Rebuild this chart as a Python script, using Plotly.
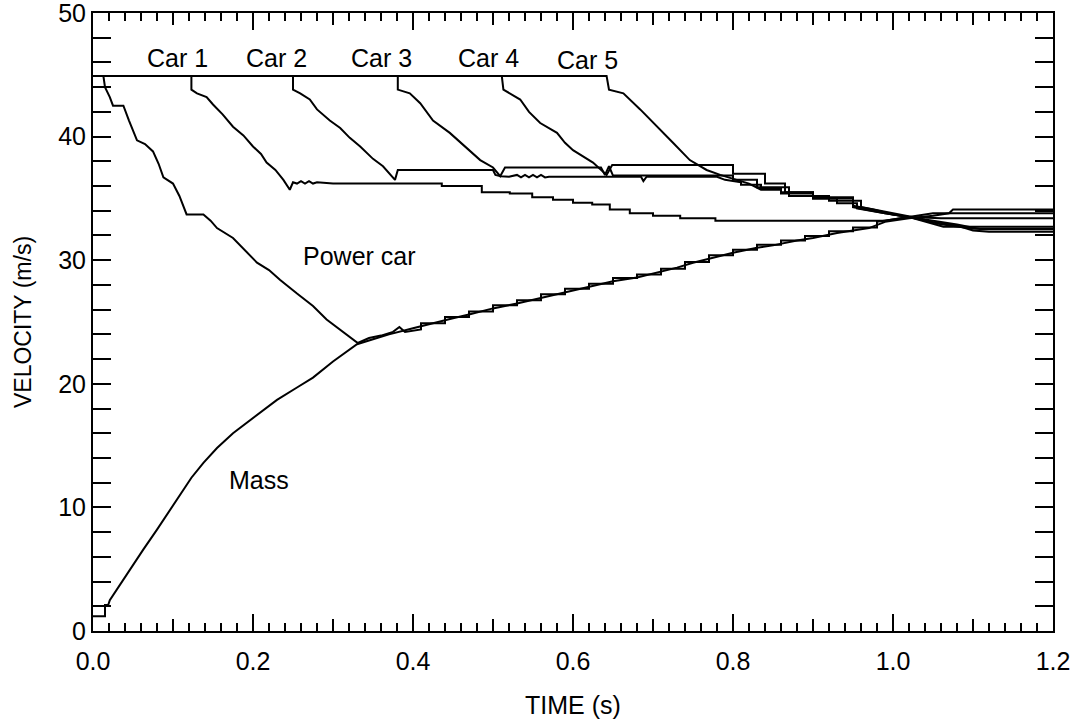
import plotly.graph_objects as go

# ---- data (time in s, velocity in m/s) ----
mass_t = [0.0, 0.015, 0.015, 0.019, 0.021, 0.03, 0.042, 0.052, 0.063, 0.08,
          0.096, 0.109, 0.123, 0.138, 0.155, 0.175, 0.2, 0.23, 0.255, 0.275,
          0.3, 0.33, 0.35, 0.37, 0.4, 0.43, 0.45, 0.47, 0.5, 0.53,
          0.55, 0.58, 0.6, 0.63, 0.65, 0.68, 0.7, 0.73, 0.75, 0.78,
          0.8, 0.83, 0.85, 0.88, 0.9, 0.93, 0.95, 0.97, 0.99, 1.02,
          1.05, 1.07, 1.075, 1.2]
mass_v = [1.2, 1.2, 2.1, 2.1, 2.5, 3.4, 4.6, 5.6, 6.6, 8.2,
          9.8, 11.1, 12.4, 13.6, 14.8, 16.0, 17.2, 18.7, 19.7, 20.5,
          21.8, 23.2, 23.6, 24.0, 24.5, 25.0, 25.3, 25.6, 26.1, 26.5,
          26.8, 27.3, 27.6, 28.0, 28.3, 28.6, 28.9, 29.4, 29.8, 30.3,
          30.6, 31.0, 31.2, 31.6, 31.8, 32.2, 32.4, 32.6, 33.1, 33.4,
          33.6, 33.8, 34.1, 34.1]

power_t = [0.0, 0.013, 0.015, 0.021, 0.025, 0.038, 0.045, 0.055, 0.065, 0.075,
           0.082, 0.088, 0.1, 0.108, 0.117, 0.138, 0.147, 0.155, 0.175, 0.19,
           0.205, 0.22, 0.234, 0.255, 0.275, 0.292, 0.31, 0.331, 0.345, 0.36,
           0.375, 0.383, 0.39,
           0.41, 0.41, 0.44, 0.44, 0.47, 0.47, 0.5, 0.5, 0.53, 0.53,
           0.56, 0.56, 0.59, 0.59, 0.62, 0.62, 0.65, 0.65, 0.68, 0.68,
           0.71, 0.71, 0.74, 0.74, 0.77, 0.77, 0.8, 0.8, 0.83, 0.83,
           0.86, 0.86, 0.89, 0.89, 0.92, 0.92, 0.95, 0.95, 0.98, 0.98,
           1.01, 1.03, 1.05, 1.2]
power_v = [44.9, 44.9, 44.0, 43.2, 42.5, 42.5, 41.3, 39.7, 39.4, 38.8,
           37.8, 36.7, 36.2, 35.2, 33.7, 33.7, 33.2, 32.6, 31.8, 30.8,
           29.8, 29.2, 28.4, 27.3, 26.3, 25.2, 24.3, 23.3, 23.7, 23.9,
           24.2, 24.6, 24.2,
           24.4, 24.9, 24.9, 25.4, 25.4, 25.85, 25.85, 26.35, 26.35, 26.75,
           26.75, 27.25, 27.25, 27.7, 27.7, 28.1, 28.1, 28.55, 28.55, 28.85,
           28.85, 29.3, 29.3, 29.85, 29.85, 30.4, 30.4, 30.85, 30.85, 31.25,
           31.25, 31.6, 31.6, 31.95, 31.95, 32.35, 32.35, 32.65, 32.65, 33.1,
           33.4, 33.6, 33.8, 33.8]

car1_t = [0.0, 0.123, 0.123, 0.13, 0.142, 0.15, 0.162, 0.175, 0.188, 0.2,
          0.21, 0.217, 0.228, 0.238, 0.246, 0.25, 0.255, 0.26, 0.265, 0.27,
          0.275, 0.28, 0.3, 0.436, 0.436, 0.486, 0.486, 0.521, 0.521, 0.549,
          0.549, 0.575, 0.575, 0.6, 0.6, 0.624, 0.624, 0.646, 0.646, 0.671,
          0.671, 0.70, 0.70, 0.734, 0.734, 0.778, 0.778, 0.99, 1.02, 1.06,
          1.2]
car1_v = [44.9, 44.9, 43.8, 43.5, 43.2, 42.6, 41.8, 40.8, 40.1, 39.2,
          38.6, 37.9, 37.3, 36.5, 35.7, 36.3, 36.2, 36.4, 36.2, 36.4,
          36.2, 36.3, 36.2, 36.2, 36.0, 36.0, 35.5, 35.5, 35.4, 35.4,
          35.1, 35.1, 34.9, 34.9, 34.65, 34.65, 34.5, 34.5, 34.1, 34.1,
          33.8, 33.8, 33.6, 33.6, 33.4, 33.4, 33.2, 33.2, 33.5, 33.4,
          33.4]

car2_t = [0.0, 0.25, 0.25, 0.259, 0.271, 0.28, 0.296, 0.309, 0.321, 0.334,
          0.35, 0.3625, 0.3775, 0.381, 0.5, 0.503, 0.51, 0.52, 0.53, 0.535,
          0.54, 0.545, 0.55, 0.555, 0.56, 0.565, 0.57, 0.685, 0.688, 0.692,
          0.78, 0.79, 0.81, 0.81, 0.835, 0.835, 0.86, 0.86, 0.9, 0.9,
          0.93, 0.93, 0.955, 0.955, 0.99, 1.02, 1.063, 1.2]
car2_v = [44.9, 44.9, 43.8, 43.5, 43.0, 42.2, 41.3, 40.7, 39.9, 39.2,
          38.2, 37.6, 36.5, 37.3, 37.3, 36.9, 36.8, 36.75, 36.9, 36.7,
          36.9, 36.7, 36.9, 36.7, 36.9, 36.7, 36.75, 36.75, 36.4, 36.75,
          36.75, 36.5, 36.3, 36.1, 36.1, 35.8, 35.8, 35.4, 35.4, 35.0,
          35.0, 34.6, 34.6, 34.2, 33.8, 33.5, 32.7, 32.7]

car3_t = [0.0, 0.381, 0.381, 0.396, 0.409, 0.425, 0.446, 0.4675, 0.484, 0.5,
          0.509, 0.515, 0.635, 0.64, 0.645, 0.65, 0.8, 0.8, 0.83, 0.83,
          0.87, 0.87, 0.92, 0.92, 0.96, 0.96, 1.0, 1.04, 1.08, 1.11,
          1.2]
car3_v = [44.9, 44.9, 43.8, 43.5, 42.7, 41.3, 40.3, 39.1, 38.1, 37.5,
          36.8, 37.5, 37.5, 36.9, 37.6, 36.85, 36.85, 36.5, 36.5, 35.9,
          35.9, 35.2, 35.2, 34.8, 34.8, 34.3, 33.8, 33.3, 32.9, 32.5,
          32.5]

car4_t = [0.0, 0.511, 0.513, 0.534, 0.545, 0.559, 0.58, 0.59, 0.6, 0.625,
          0.642, 0.649, 0.78, 0.8, 0.8, 0.84, 0.84, 0.865, 0.865, 0.9,
          0.9, 0.95, 0.95, 0.975, 1.0, 1.02, 1.05, 1.08, 1.1, 1.12,
          1.2]
car4_v = [44.9, 44.9, 43.8, 43.0, 42.0, 41.1, 40.3, 39.5, 38.9, 37.9,
          36.9, 37.7, 37.7, 37.7, 37.0, 37.0, 36.2, 36.2, 35.5, 35.5,
          35.0, 35.0, 34.4, 34.1, 33.7, 33.5, 33.1, 32.8, 32.4, 32.3,
          32.3]

car5_t = [0.0, 0.642, 0.645, 0.663, 0.684, 0.709, 0.725, 0.746, 0.767, 0.784,
          0.82, 0.835, 0.86, 0.86, 0.9, 0.9, 0.95, 0.95, 0.99, 1.02,
          1.04, 1.06, 1.1, 1.2]
car5_v = [44.9, 44.9, 43.8, 43.5, 42.2, 40.5, 39.5, 38.1, 37.3, 36.9,
          36.2, 35.7, 35.7, 35.5, 35.5, 35.1, 35.1, 34.3, 33.8, 33.5,
          33.2, 32.9, 32.55, 32.55]

labels = ["Car 1", "Car 2", "Car 3", "Car 4", "Car 5", "Power car", "Mass"]
label_t = [0.105, 0.229, 0.36, 0.494, 0.6175, 0.3325, 0.2075]
label_v = [46.4, 46.4, 46.4, 46.4, 46.2, 30.3, 12.2]

x_ticks = [0.0, 0.2, 0.4, 0.6, 0.8, 1.0, 1.2]
x_tick_text = ["0.0", "0.2", "0.4", "0.6", "0.8", "1.0", "1.2"]
x_mid_ticks = [0.1, 0.3, 0.5, 0.7, 0.9, 1.1]
y_ticks = [0, 10, 20, 30, 40, 50]

FONT = "Liberation Sans, Arial, Helvetica, sans-serif"

series = [(mass_t, mass_v), (power_t, power_v), (car1_t, car1_v),
          (car2_t, car2_v), (car3_t, car3_v), (car4_t, car4_v),
          (car5_t, car5_v)]

fig = go.Figure()
for t, v in series:
    fig.add_trace(go.Scatter(x=t, y=v, mode="lines",
                             line=dict(color="black", width=2),
                             showlegend=False, hoverinfo="skip"))
# empty trace to hold the secondary (medium tick) axis
fig.add_trace(go.Scatter(x=[], y=[], xaxis="x2", showlegend=False))

for txt, t, v in zip(labels, label_t, label_v):
    fig.add_annotation(x=t, y=v, text=txt, showarrow=False,
                       font=dict(family=FONT, size=25, color="black"))

fig.update_layout(
    width=1075, height=719,
    margin=dict(l=93, r=22, t=13, b=88, autoexpand=False),
    paper_bgcolor="white", plot_bgcolor="white",
    font=dict(family=FONT, size=24, color="black"),
    xaxis=dict(range=[0, 1.2], tickvals=x_ticks, ticktext=x_tick_text,
               automargin=False, ticklabeloverflow="allow", ticklabelstandoff=7,
               ticks="inside", ticklen=17, tickwidth=2, tickcolor="black",
               showline=True, linecolor="black", linewidth=2, mirror="allticks",
               showgrid=False, zeroline=False,
               minor=dict(dtick=0.02, ticks="inside", ticklen=8, tickwidth=2,
                          tickcolor="black", showgrid=False),
               title=dict(text="TIME (s)", font=dict(size=25), standoff=27),
               tickfont=dict(size=25)),
    xaxis2=dict(range=[0, 1.2], overlaying="x", anchor="y", side="bottom",
                automargin=False,
                tickvals=x_mid_ticks, showticklabels=False,
                ticks="inside", ticklen=12, tickwidth=2, tickcolor="black",
                showline=False, mirror="allticks", showgrid=False, zeroline=False),
    yaxis=dict(range=[0, 50], tickvals=y_ticks,
               automargin=False, ticklabeloverflow="allow",
               ticks="inside", ticklen=18, tickwidth=2, tickcolor="black",
               showline=True, linecolor="black", linewidth=2, mirror="allticks",
               showgrid=False, zeroline=False,
               minor=dict(dtick=2, ticks="inside", ticklen=8, tickwidth=2,
                          tickcolor="black", showgrid=False),
               title=dict(text="VELOCITY (m/s)", font=dict(size=23), standoff=20),
               tickfont=dict(size=25)),
)

fig.write_html("out.html", config={"displayModeBar": False})

# remove the browser's default page margin so the figure sits at (0, 0)
with open("out.html", "r", encoding="utf-8") as f:
    html = f.read()
html = html.replace("<head>", "<head><style>html,body{margin:0;padding:0;}</style>", 1)
with open("out.html", "w", encoding="utf-8") as f:
    f.write(html)
